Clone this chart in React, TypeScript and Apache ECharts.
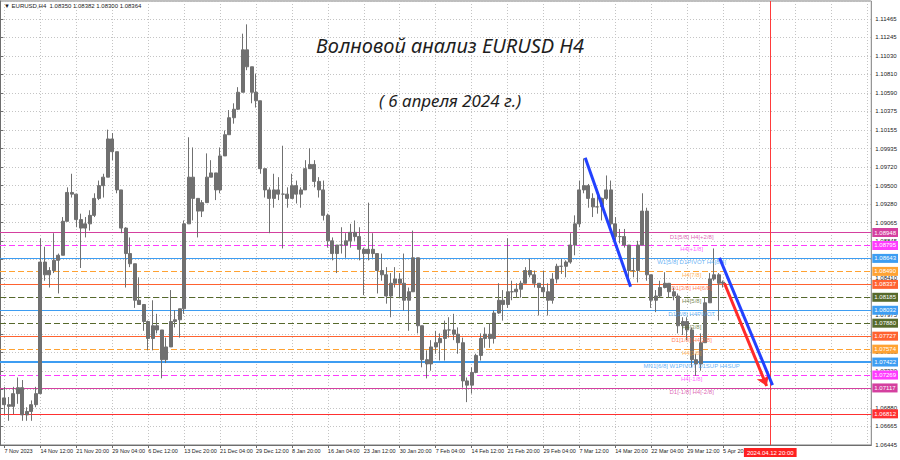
import React, { useEffect, useRef } from 'react';
import * as echarts from 'echarts';

// ---------- data ----------
const symbolTitle = 'EURUSD,H4';
const lastBar = [1.0835, 1.08382, 1.083, 1.08364];
const titleMain = 'Волновой анализ EURUSD H4';
const titleDate = '( 6 апреля 2024 г.)';

// one point = 4 H4 bars, one label every 8 points (32 bars)
const xTickLabels = [
  '7 Nov 2023', '14 Nov 12:00', '21 Nov 20:00', '29 Nov 04:00', '6 Dec 12:00', '13 Dec 20:00',
  '21 Dec 04:00', '29 Dec 12:00', '8 Jan 20:00', '16 Jan 04:00', '23 Jan 12:00', '30 Jan 20:00',
  '7 Feb 04:00', '14 Feb 12:00', '21 Feb 20:00', '29 Feb 04:00', '7 Mar 12:00', '14 Mar 20:00',
  '22 Mar 04:00', '29 Mar 12:00', '5 Apr 20:00',
];

const firstOpen = 1.07;
const highs = [
  1.0713, 1.0701, 1.0713, 1.0724, 1.0721, 1.0689, 1.0697, 1.0713, 1.0888, 1.0878,
  1.0854, 1.0894, 1.0870, 1.0913, 1.0948, 1.0964, 1.0936, 1.0917, 1.0913, 1.0921,
  1.0941, 1.0956, 1.0964, 1.1016, 1.1012, 1.0988, 1.0941, 1.0901, 1.0889, 1.0854,
  1.0842, 1.0806, 1.0791, 1.0815, 1.0799, 1.0771, 1.0771, 1.0827, 1.0803, 1.0803,
  1.0909, 1.1007, 1.0995, 1.0929, 1.0933, 1.0988, 1.0980, 1.0964, 1.0995, 1.1015,
  1.1039, 1.1047, 1.1066, 1.1129, 1.1140, 1.1086, 1.1082, 1.1042, 1.0968, 1.0948,
  1.0964, 1.0960, 1.0997, 1.0948, 1.0964, 1.0956, 1.0948, 1.0980, 1.0994, 1.0980,
  1.0960, 1.0956, 1.0917, 1.0889, 1.0877, 1.0901, 1.0894, 1.0905, 1.0909, 1.0901,
  1.0877, 1.0930, 1.0894, 1.0870, 1.0870, 1.0854, 1.0847, 1.0854, 1.0847, 1.0870,
  1.0830, 1.0897, 1.0838, 1.0776, 1.0756, 1.0768, 1.0779, 1.0776, 1.0791, 1.0795,
  1.0799, 1.0783, 1.0771, 1.0724, 1.0736, 1.0752, 1.0776, 1.0783, 1.0788, 1.0803,
  1.0835, 1.0827, 1.0888, 1.0838, 1.0835, 1.0838, 1.0854, 1.0864, 1.0850, 1.0835,
  1.0850, 1.0835, 1.0847, 1.0858, 1.0864, 1.0862, 1.0894, 1.0915, 1.0956, 1.0982,
  1.0952, 1.0941, 1.0941, 1.0936, 1.0962, 1.0956, 1.0913, 1.0899, 1.0899, 1.0877,
  1.0865, 1.0885, 1.0941, 1.0924, 1.0838, 1.0827, 1.0838, 1.0848, 1.0835, 1.0830,
  1.0823, 1.0795, 1.0795, 1.0783, 1.0752, 1.0776, 1.0818, 1.0847, 1.0876, 1.0847,
  1.08382,
];
const lows = [
  1.0681, 1.0673, 1.0681, 1.0693, 1.0673, 1.0673, 1.0673, 1.0689, 1.0712, 1.0838,
  1.0830, 1.0847, 1.0823, 1.0870, 1.0913, 1.0936, 1.0901, 1.0853, 1.0889, 1.0897,
  1.0913, 1.0933, 1.0936, 1.0960, 1.0980, 1.0941, 1.0894, 1.0830, 1.0854, 1.0806,
  1.0811, 1.0779, 1.0756, 1.0756, 1.0776, 1.0723, 1.0741, 1.0764, 1.0783, 1.0771,
  1.0799, 1.0909, 1.0909, 1.0889, 1.0913, 1.0948, 1.0960, 1.0933, 1.0941, 1.0991,
  1.1012, 1.1023, 1.1039, 1.1066, 1.1086, 1.1047, 1.1042, 1.0964, 1.0936, 1.0894,
  1.0924, 1.0933, 1.0876, 1.0924, 1.0941, 1.0929, 1.0924, 1.0956, 1.0971, 1.0948,
  1.0936, 1.0909, 1.0877, 1.0862, 1.0847, 1.0870, 1.0865, 1.0877, 1.0885, 1.0862,
  1.0821, 1.0862, 1.0865, 1.0823, 1.0838, 1.0811, 1.0795, 1.0830, 1.0818, 1.0803,
  1.0779, 1.0862, 1.0776, 1.0736, 1.0723, 1.0732, 1.0752, 1.0744, 1.0744, 1.0771,
  1.0768, 1.0752, 1.0712, 1.0695, 1.0705, 1.0729, 1.0744, 1.0759, 1.0759, 1.0764,
  1.0799, 1.0791, 1.0806, 1.0815, 1.0818, 1.0818, 1.0835, 1.0842, 1.0830, 1.0797,
  1.0818, 1.0797, 1.0811, 1.0835, 1.0846, 1.0842, 1.0858, 1.0868, 1.0901, 1.0941,
  1.0924, 1.0913, 1.0917, 1.0909, 1.0933, 1.0897, 1.0885, 1.0882, 1.0877, 1.0838,
  1.0842, 1.0836, 1.0901, 1.0838, 1.0806, 1.0801, 1.0818, 1.0829, 1.0818, 1.0815,
  1.0776, 1.0774, 1.0768, 1.0736, 1.0726, 1.0732, 1.0768, 1.0818, 1.0838, 1.0791,
  1.083,
];
const closes = [
  1.0692, 1.0690, 1.0705, 1.0712, 1.0680, 1.0684, 1.0692, 1.0705, 1.0860, 1.0845,
  1.0850, 1.0862, 1.0868, 1.0908, 1.0942, 1.0940, 1.0910, 1.0900, 1.0905, 1.0915,
  1.0935, 1.0950, 1.0960, 1.1005, 1.0990, 1.0945, 1.0900, 1.0870, 1.0858, 1.0815,
  1.0810, 1.0790, 1.0770, 1.0785, 1.0780, 1.0745, 1.0760, 1.0790, 1.0792, 1.0805,
  1.0905, 1.0960, 1.0935, 1.0920, 1.0930, 1.0960, 1.0965, 1.0945, 1.0985, 1.1010,
  1.1030, 1.1040, 1.1060, 1.1110, 1.1090, 1.1060, 1.1050, 1.0970, 1.0945, 1.0935,
  1.0945, 1.0940, 1.0940, 1.0935, 1.0950, 1.0940, 1.0945, 1.0970, 1.0975, 1.0955,
  1.0945, 1.0915, 1.0885, 1.0870, 1.0880, 1.0880, 1.0885, 1.0895, 1.0890, 1.0875,
  1.0870, 1.0875, 1.0870, 1.0850, 1.0845, 1.0820, 1.0835, 1.0840, 1.0835, 1.0815,
  1.0825, 1.0865, 1.0785, 1.0745, 1.0740, 1.0760, 1.0765, 1.0770, 1.0780, 1.0780,
  1.0775, 1.0765, 1.0720, 1.0715, 1.0730, 1.0750, 1.0770, 1.0775, 1.0770, 1.0800,
  1.0815, 1.0810, 1.0825, 1.0825, 1.0828, 1.0835, 1.0850, 1.0845, 1.0835, 1.0830,
  1.0825, 1.0815, 1.0840, 1.0855, 1.0855, 1.0860, 1.0880, 1.0905, 1.0945, 1.0950,
  1.0935, 1.0925, 1.0925, 1.0935, 1.0945, 1.0905, 1.0890, 1.0890, 1.0880, 1.0850,
  1.0850, 1.0880, 1.0920, 1.0845, 1.0815, 1.0820, 1.0830, 1.0835, 1.0825, 1.0820,
  1.0785, 1.0790, 1.0780, 1.0745, 1.0740, 1.0765, 1.0812, 1.0840, 1.0845, 1.0835,
  1.08364,
];

const yMin = 1.06445;
const yMax = 1.11675;
const yStep = 0.0021826;
const yTickLabels = [
  '1.06445', '1.06665', '1.06880', '1.07100', '1.07320', '1.07535', '1.07755', '1.07975',
  '1.08190', '1.08410', '1.08630', '1.08845', '1.09065', '1.09280', '1.09500', '1.09720',
  '1.09935', '1.10155', '1.10375', '1.10590', '1.10810', '1.11030', '1.11245', '1.11465',
];

const levelPrices = [
  1.08948, 1.08795, 1.08643, 1.0849, 1.08337, 1.08185, 1.08032,
  1.0788, 1.07727, 1.07574, 1.07422, 1.07269, 1.07117, 1.06812,
];
const levelNames = [
  'D1[5/8] H4[+2/8]', 'H4[+1/8]', 'W1[5/8] D1PIVOT H4[8/8]', 'H4[7/8]', 'D1[3/8] H4[6/8]',
  'H4[5/8]', 'D1[2/8] H4PIVOT', 'H4[3/8]', 'D1[1/8] H4[2/8]', 'H4[1/8]',
  'MN1[6/8] W1PIVOT D1SUP H4SUP', 'H4[-1/8]', 'D1[-1/8] H4[-2/8]', '',
];
const bidPrice = 1.08364;

// in point-index units of the time axis
const waveDown1 = [[130.3, 1.0983], [140.4, 1.0831]];
const waveDown2 = [[160.2, 1.0865], [172.0, 1.0715]];
const forecastArrow = [[161.3, 1.0835], [170.7, 1.0714]];
const forecastBar = 171.5;
const forecastLabel = '2024.04.12 20:00';
const levelTextBar = 154;

// ---------- styles ----------
const PINK = '#d4409f';
const MAGENTA = '#ff3cff';
const BLUE = '#3d9df2';
const ORANGE = '#ffa232';
const ORED = '#ff6230';
const OLIVE = '#56692c';
const levelStyles = [
  { color: PINK, type: 'solid', width: 1 },
  { color: MAGENTA, type: [6, 3], width: 1 },
  { color: BLUE, type: 'solid', width: 1 },
  { color: ORANGE, type: [6, 3], width: 1 },
  { color: ORED, type: 'solid', width: 1 },
  { color: OLIVE, type: [6, 3], width: 1 },
  { color: BLUE, type: 'solid', width: 1 },
  { color: OLIVE, type: [6, 3], width: 1 },
  { color: ORED, type: 'solid', width: 1 },
  { color: ORANGE, type: [6, 3], width: 1 },
  { color: BLUE, type: 'solid', width: 2 },
  { color: MAGENTA, type: [6, 3], width: 1 },
  { color: PINK, type: 'solid', width: 1 },
  { color: '#ff3030', type: 'solid', width: 1 },
];

const CAT_COUNT = 195;
const PER_LABEL = 8;
const FONT = 'Liberation Sans';
const CANDLE = '#707070';

export default function App() {
  const ref = useRef<HTMLDivElement>(null);
  useEffect(() => {
    const chart = echarts.init(ref.current as HTMLDivElement, null, { renderer: 'svg' });
    const cats = Array.from({ length: CAT_COUNT }, (_, i) => 'c' + i);
    const candleData = closes.map((c, j) => {
      const o = j === 0 ? firstOpen : closes[j - 1];
      return [j + 1, o, c, Math.min(lows[j], o, c), Math.max(highs[j], o, c)];
    });
    const isGridCat = (i: number) => i >= 1 && (i - 1) % PER_LABEL === 0;
    const isLabelCat = (i: number) => isGridCat(i) && (i - 1) / PER_LABEL < xTickLabels.length;

    const boxLabel = (bg: string, text: string) => ({
      show: true, position: 'end', distance: 1, fontSize: 6, fontFamily: FONT,
      color: '#fff', backgroundColor: bg, padding: [2, 2, 1, 2], formatter: text,
    });

    const levelLines = [
      { yAxis: bidPrice, lineStyle: { opacity: 0, color: '#000' }, label: boxLabel('#000000', bidPrice.toFixed(5)) },
      ...levelPrices.map((p, k) => ({
        yAxis: p,
        lineStyle: { color: levelStyles[k].color, type: levelStyles[k].type, width: levelStyles[k].width },
        label: boxLabel(levelStyles[k].color, p.toFixed(5)),
      })),
    ];

    const option: any = {
      animation: false,
      backgroundColor: '#ffffff',
      textStyle: { fontFamily: FONT },
      grid: { left: 0, right: 28, top: 1, bottom: 15, show: true, borderColor: '#7c7c7c', borderWidth: 1 },
      xAxis: [
        {
          type: 'category', data: cats, boundaryGap: false,
          axisLine: { lineStyle: { color: '#6e6e6e' } },
          axisTick: { show: true, interval: (i: number) => isLabelCat(i), length: 3, lineStyle: { color: '#6e6e6e' } },
          axisLabel: {
            interval: (i: number) => isLabelCat(i),
            formatter: (_v: string, i: number) => xTickLabels[(i - 1) / PER_LABEL] ?? '',
            align: 'left', fontSize: 5.5, color: '#222', margin: 3,
          },
          splitLine: { show: true, interval: (i: number) => isGridCat(i), lineStyle: { color: '#c4c4c4', type: [1, 2] } },
        },
        { type: 'value', min: 0, max: CAT_COUNT - 1, show: false },
      ],
      yAxis: {
        type: 'value', position: 'right', min: yMin, max: yMax, interval: yStep,
        axisLine: { show: true, lineStyle: { color: '#6e6e6e' } },
        axisTick: { show: true, length: 3, lineStyle: { color: '#6e6e6e' } },
        axisLabel: {
          formatter: (_v: number, i: number) => yTickLabels[i] ?? '',
          fontSize: 6, color: '#222', margin: 4, showMaxLabel: false, showMinLabel: true,
        },
        splitLine: { show: true, lineStyle: { color: '#c4c4c4', type: [1, 2] } },
      },
      series: [
        {
          type: 'candlestick', xAxisIndex: 0, yAxisIndex: 0, data: candleData,
          encode: { x: 0, y: [1, 2, 3, 4] }, barWidth: 3.5, z: 3,
          itemStyle: { color: CANDLE, color0: CANDLE, borderColor: CANDLE, borderColor0: CANDLE, borderWidth: 1 },
        },
        {
          type: 'scatter', xAxisIndex: 1, yAxisIndex: 0, symbolSize: 0, silent: true, z: 4,
          itemStyle: { color: 'transparent' },
          data: levelPrices.map((p, k) => ({
            name: levelNames[k], value: [levelTextBar, p],
            label: { color: levelStyles[k].color },
          })),
          label: { show: true, position: 'bottom', distance: 1, fontSize: 6, fontFamily: FONT, formatter: '{b}' },
          markLine: {
            silent: true, symbol: ['none', 'none'], animation: false, z: 2, precision: 6,
            data: levelLines,
          },
        },
        {
          type: 'line', xAxisIndex: 1, yAxisIndex: 0, data: waveDown1, symbol: 'none', silent: true, z: 5,
          lineStyle: { color: '#2241ff', width: 3 },
          markLine: {
            silent: true, symbol: ['none', 'arrow'], symbolSize: 10, animation: false, precision: 6,
            lineStyle: { color: '#ff2a2a', width: 3, type: 'solid' },
            label: { show: false },
            data: [[{ coord: forecastArrow[0] }, { coord: forecastArrow[1] }]],
          },
        },
        {
          type: 'line', xAxisIndex: 1, yAxisIndex: 0, data: waveDown2, symbol: 'none', silent: true, z: 5,
          lineStyle: { color: '#2241ff', width: 3 },
          markLine: {
            silent: true, symbol: ['none', 'none'], animation: false, precision: 6,
            data: [{
              xAxis: forecastBar,
              lineStyle: { color: '#ff3b3b', width: 1, type: 'solid' },
              label: {
                show: true, position: 'start', formatter: forecastLabel, distance: 3,
                backgroundColor: '#ff2020', color: '#fff', fontSize: 6, fontFamily: FONT, padding: [2, 3, 1, 3],
              },
            }],
          },
        },
      ],
      graphic: [
        {
          type: 'text', left: 4, top: 3, z: 100,
          style: {
            text: '▼ ' + symbolTitle + '  ' + lastBar.map((v) => v.toFixed(5)).join(' '),
            fontSize: 6, fill: '#1a1a1a', fontFamily: FONT,
          },
        },
        {
          type: 'text', left: 'center', top: 35, z: 100,
          style: {
            text: titleMain, fontSize: 20, fontStyle: 'italic', fontFamily: 'Noto Sans', fill: '#1e1e1e',
            shadowBlur: 3, shadowColor: 'rgba(0,0,0,0.35)', shadowOffsetX: 1, shadowOffsetY: 1,
          },
        },
        {
          type: 'text', left: 'center', top: 92, z: 100,
          style: {
            text: titleDate, fontSize: 17, fontStyle: 'italic', fontFamily: 'Noto Sans', fill: '#1e1e1e',
            shadowBlur: 3, shadowColor: 'rgba(0,0,0,0.35)', shadowOffsetX: 1, shadowOffsetY: 1,
          },
        },
      ],
    };
    chart.setOption(option);
    return () => chart.dispose();
  }, []);
  return (
    <div
      ref={ref}
      style={{ position: 'fixed', left: 0, top: 0, width: 900, height: 460, background: '#fff' }}
    />
  );
}
